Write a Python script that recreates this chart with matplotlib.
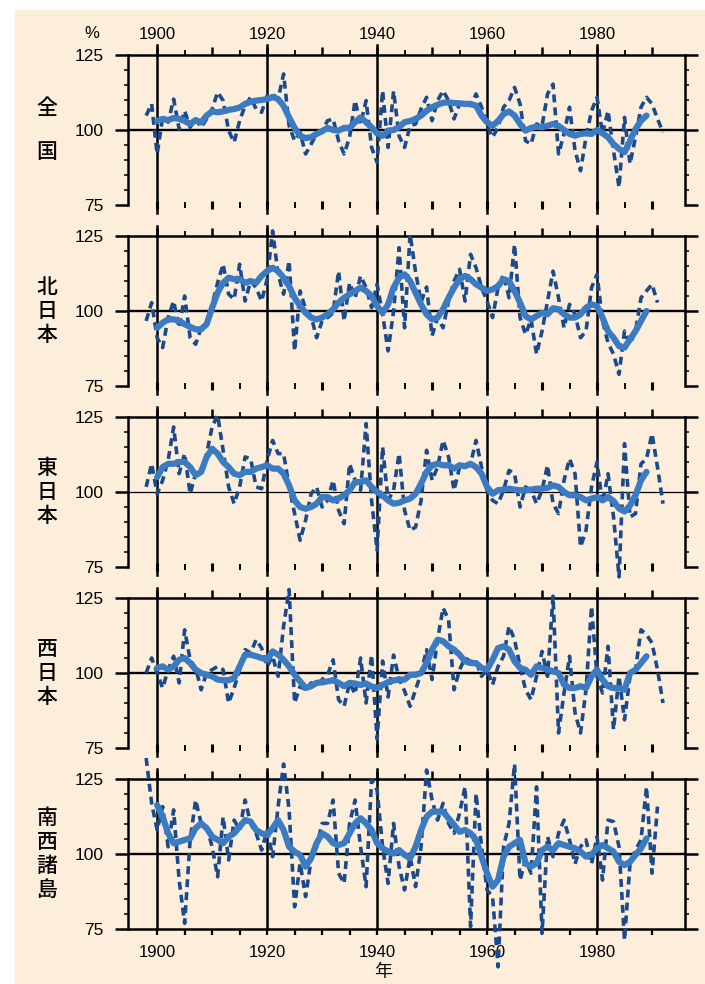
import matplotlib.pyplot as plt
import numpy as np
from matplotlib.patches import Rectangle
from matplotlib.ticker import FuncFormatter

FIG_W, FIG_H = 705, 984
BG = "#fdeedc"
DASH_COLOR = "#1b4a8c"
SMOOTH_COLOR = "#3b7bc2"
CJK = ["Noto Sans CJK JP", "DejaVu Sans"]

plt.rcParams["font.family"] = ["Liberation Sans", "DejaVu Sans"]

regions = ["全国", "北日本", "東日本", "西日本", "南西諸島"]
annual_start = 1898
smooth_start = 1900

# annual precipitation ratio (%)
annual_zenkoku = [
    104.8, 108.7, 92, 104.2, 102.6, 110.3, 100.3, 106.4, 100.9, 103.7,
    100.9, 103.7, 107, 112.6, 109.8, 99.8, 95.9, 103.1, 108.1, 110.9,
    107, 105.9, 111.4, 112, 110.3, 118.7, 101.4, 96.4, 99.2, 92,
    95.3, 98.7, 99.8, 103.1, 103.7, 96.4, 92, 97.6, 109.8, 102,
    109.8, 94.2, 89.2, 113.1, 94.2, 113, 98, 94.2, 101.4, 102,
    107, 110.9, 103.1, 109.8, 113.1, 109.8, 103.7, 108.7, 109.2, 108.1,
    112, 107.6, 101.4, 97.6, 100.9, 107.6, 109.8, 114.2, 108.7, 96.4,
    95.3, 102, 101.4, 112, 115.3, 92, 98.7, 107.6, 93.1, 86.4,
    97.6, 106.4, 110.9, 98.7, 106.4, 93.1, 80.9, 104.2, 88.7, 97.6,
    107.6, 110.9, 108.7, 103.7, 99.2,
]
annual_kita = [
    96.7, 102.8, 91.1, 87.8, 97.8, 103.3, 94.4, 105, 91.1, 88.9,
    94.4, 95.6, 102.2, 109.4, 115.6, 105.6, 103.9, 115.6, 103.3, 110,
    107.8, 103.3, 110.6, 126.7, 112.2, 105.6, 116.7, 86.7, 106.7, 100.6,
    98.3, 91.1, 96.7, 97.8, 99.4, 113.3, 96.7, 109.4, 104.4, 111.7,
    107.8, 101.1, 108.9, 98.9, 86.7, 100, 121.1, 94.4, 125.6, 113,
    103, 108, 91.7, 97.8, 94.4, 103.3, 110, 113.9, 103.3, 118.9,
    114.4, 107.8, 103.3, 97.8, 107.8, 112.2, 104.4, 122.2, 97.8, 92.2,
    97.2, 85.6, 93.3, 103.3, 113.3, 104.4, 94.4, 102.2, 98.9, 91.1,
    93.3, 107.8, 112.2, 96.7, 89.4, 85.6, 78.9, 93.3, 88.9, 93.3,
    104.4, 106.7, 108.9, 102.8,
]
annual_higashi = [
    101.7, 109.4, 99.4, 103.9, 110.6, 121.7, 106.1, 112.8, 99.4, 106.1,
    105.6, 112.8, 121.7, 125.6, 113.9, 101.7, 96.1, 101.7, 111.7, 111.1,
    101.7, 101.1, 110.6, 117.2, 112.8, 112.8, 101.7, 92.8, 83.9, 90.6,
    99.4, 101.7, 95, 97.2, 103.9, 93.9, 89.4, 109.4, 103.9, 100.6,
    122.8, 97.2, 80.6, 115, 97.2, 100.6, 112.8, 93.9, 87.2, 88.3,
    97.2, 113.9, 103.9, 108.3, 117.2, 111.7, 100.6, 108.3, 108.3, 109.4,
    117.2, 108.3, 100.6, 97.2, 96.1, 100.6, 107.2, 106.1, 95, 101.7,
    100.6, 96.1, 100.6, 108.9, 96.1, 92.8, 103.9, 111.1, 106.1, 81.7,
    87.2, 101.7, 110, 96.1, 106.1, 91.7, 71.7, 116.1, 91.7, 92.8,
    109.4, 111.1, 119.4, 108.3, 96.1,
]
annual_nishi = [
    100, 105, 100, 95, 101.1, 105.6, 96.7, 114.4, 104.4, 101.7,
    94.4, 100, 101.1, 102.2, 101.1, 90, 95, 101.1, 107.8, 106.7,
    111.1, 108.3, 102.2, 105.6, 98.9, 115.6, 127.8, 90, 95.6, 94.4,
    96.7, 96.1, 97.8, 99.4, 104.4, 91.1, 88.9, 96.7, 93, 105,
    90, 106, 78, 104, 92, 106, 98, 94, 88.9, 94.4,
    100, 107.8, 97.8, 111.1, 121.7, 117.8, 94.4, 101.1, 105, 103.9,
    103.9, 98.9, 101.1, 96.1, 102.2, 105.6, 115.6, 111.1, 102.2, 94.4,
    91.1, 98.9, 107.2, 98.9, 125.6, 80, 93.3, 105.6, 86.7, 80,
    94.4, 122.2, 98.9, 93.3, 108.9, 81.1, 98.9, 84.4, 98.9, 101.1,
    114.4, 112.8, 110, 101.1, 90,
]
annual_nansei = [
    132, 116.9, 108, 115.8, 102.4, 114.7, 91.3, 76.9, 104.7, 118,
    110.2, 109.1, 102.4, 92.4, 112.4, 98, 111.3, 108, 118, 110.2,
    106.9, 101.3, 108, 99.1, 115.8, 130, 114.7, 82.4, 96.9, 85.8,
    98, 102.4, 110.2, 110.2, 118, 93.6, 90.2, 110.2, 118, 102.4,
    89.1, 124.7, 121.3, 102.4, 90.2, 110.2, 95.8, 88, 99.1, 89.1,
    102.4, 128, 118, 111.3, 116.9, 110.2, 106.9, 113.6, 122.4, 75.8,
    120.2, 102.4, 88, 85.8, 62.4, 102.4, 110.2, 130, 91.3, 98,
    93.6, 122.4, 73.6, 105.8, 99.1, 106.9, 111.3, 104.7, 96.7, 102.4,
    104.7, 96.7, 105.8, 91.3, 111.3, 110.8, 102.4, 71.3, 96.9, 101.3,
    104.7, 122.4, 93.6, 115.8,
]

# 5-year running mean (thick line)
smooth_zenkoku = [
    103, 103.7, 103.3, 104, 103.7, 103, 102, 103.3, 102.5, 104.8,
    106.2, 105.9, 106.2, 106.7, 107, 107.5, 108.7, 109.4, 109.8, 110,
    110.3, 111, 110.3, 108, 104.2, 100.7, 98.1, 97.3, 97.6, 98.7,
    99.6, 100.7, 100, 99.8, 100.7, 100.7, 102.6, 104.2, 102.6, 100.9,
    98.9, 98.1, 99.8, 100, 101, 102.6, 103, 103.7, 104.8, 106.4,
    107.6, 108.4, 109.1, 109.2, 109, 108.9, 108.7, 108.7, 108.1, 104.8,
    102.6, 101.4, 103, 105.3, 106.2, 104.8, 102, 99.8, 100.7, 101.1,
    100.9, 101.4, 102, 101.4, 100, 98.7, 98.1, 98.7, 98.9, 98.7,
    100, 98.9, 97.6, 95.3, 93.7, 92.6, 96.4, 100.3, 103.1, 104.8,
]
smooth_kita = [
    94.4, 96.1, 97.2, 97.2, 96.7, 95.6, 94.7, 93.9, 93.9, 95.6,
    101.1, 106.1, 109.4, 111.1, 110.6, 110.6, 109.4, 110, 109.4, 111.7,
    113.3, 114.4, 113.3, 111.1, 108.3, 104.4, 101.7, 99.4, 97.8, 97.2,
    97.8, 98.9, 100.6, 102.8, 104.4, 105.6, 106.7, 107.8, 106.7, 105,
    101.7, 99.4, 102.2, 107.8, 111.1, 112.2, 110, 106.1, 102.2, 98.9,
    97.2, 97.8, 100.6, 104.4, 107.8, 110.6, 111.7, 110.6, 108.9, 107.8,
    106.7, 107.2, 108.3, 110.6, 110, 106.7, 102.8, 98.3, 97.2, 98.3,
    99.4, 98.9, 100.9, 100.6, 98.9, 97.8, 97.8, 98.9, 101.1, 102.2,
    101.7, 97.8, 93.3, 91.1, 88.3, 87.8, 90.6, 93.3, 96.7, 100,
]
smooth_higashi = [
    105, 108.3, 109.4, 109.4, 110, 110, 108.3, 105.6, 106.7, 111.7,
    114.4, 112.8, 110, 108.3, 106.1, 105.6, 106.7, 106.7, 107.8, 108.3,
    108.9, 107.8, 107.8, 106.1, 102.2, 97.2, 95, 94.4, 95, 96.1,
    98.3, 98.3, 97.2, 97.8, 98.9, 100.6, 103.3, 103.3, 103.9, 101.7,
    100, 98.9, 97.2, 96.1, 96.4, 97.2, 97.8, 99.4, 102.8, 106.7,
    108.9, 109.4, 108.9, 108.9, 107.8, 108.9, 108.6, 109.4, 108.3, 106.1,
    101.7, 99.4, 100.6, 100.8, 101.1, 100.8, 100.6, 100.6, 100.8, 101.1,
    101.1, 101.4, 102.2, 101.7, 100, 98.9, 98.9, 98.3, 97.2, 97.8,
    98.3, 97.2, 98.3, 97, 94.5, 93.5, 95.5, 98.9, 103.9, 106.7,
]
smooth_nishi = [
    101.7, 102.2, 101.1, 102.2, 104.4, 105, 103.3, 101.1, 100, 99.4,
    98.9, 97.8, 97.6, 97.6, 98.3, 102.2, 106.1, 106.1, 105.6, 105,
    104.4, 107.2, 106.1, 104.4, 102.2, 99.4, 97.2, 95, 95.6, 96.7,
    96.9, 97.2, 97.6, 96.7, 95.6, 96.7, 96.5, 96, 96.5, 95.5,
    95, 96, 97, 97.5, 97.8, 97.8, 99.4, 99.4, 100, 103.3,
    107.8, 111.1, 110.6, 108.9, 107.8, 106.1, 103.9, 103.3, 103.3, 101.7,
    101.1, 104.4, 108.3, 108.9, 107.8, 103.9, 101.7, 101.1, 99.4, 102.2,
    101.7, 101.1, 100.6, 100, 96.1, 95, 95, 95.6, 95, 98.9,
    101.1, 97.8, 95.6, 95, 95, 94.4, 100, 101.1, 103.3, 105.6,
]
smooth_nansei = [
    116.3, 112.4, 106.9, 103.6, 104.1, 104.7, 105.2, 108.6, 110.2, 108.6,
    105.8, 104.7, 103.6, 105.8, 106.9, 109.1, 111.3, 110.8, 108, 106.9,
    106.3, 108.6, 111.3, 108, 102.4, 100.8, 99.7, 95.8, 98.6, 103.6,
    106.9, 105.8, 103.6, 103, 103.6, 106.9, 110.2, 111.9, 110.2, 108,
    103.6, 101.9, 100.8, 100.2, 101.3, 99.7, 98.6, 102.4, 108, 112.4,
    114.1, 114.1, 114.1, 111.9, 109.7, 107.4, 108, 106.9, 104.7, 99.1,
    93.6, 89.1, 91.3, 99.1, 102.4, 103.6, 104.7, 96.9, 95.8, 96.9,
    101.3, 102.4, 101.3, 103.6, 103, 102.4, 101.9, 100.8, 99.1, 99.7,
    101.9, 103, 101.9, 100.8, 97.4, 96.3, 97.4, 99.7, 101.9, 105.2,
]

annual_series = [annual_zenkoku, annual_kita, annual_higashi, annual_nishi, annual_nansei]
smooth_series = [smooth_zenkoku, smooth_kita, smooth_higashi, smooth_nishi, smooth_nansei]


def px(x, y):
    """pixel position (from top-left) -> figure fraction"""
    return x / FIG_W, 1 - y / FIG_H


fig = plt.figure(figsize=(FIG_W / 100, FIG_H / 100), dpi=100, facecolor="white")
fig.patches.append(Rectangle(px(15, FIG_H), 1 - 15 / FIG_W, 1 - 10 / FIG_H,
                             transform=fig.transFigure, color=BG, zorder=-10))

AX_LEFT, AX_RIGHT = 128, 685
PANEL_TOP, PANEL_STEP, PANEL_H = 55, 181, 150
year_fmt = FuncFormatter(lambda v, pos: f"{int(v)}" if int(v) % 20 == 0 else "")

n = len(regions)
for i, name in enumerate(regions):
    top = PANEL_TOP + PANEL_STEP * i
    last = i == n - 1
    x0, y0 = px(AX_LEFT, top + PANEL_H)
    ax = fig.add_axes([x0, y0, (AX_RIGHT - AX_LEFT) / FIG_W, PANEL_H / FIG_H])
    ax.patch.set_alpha(0)
    ax.set_xlim(1894.7, 1996)
    ax.set_ylim(75, 125)

    for side in ["left", "top", "right"]:
        ax.spines[side].set_linewidth(1.8)
    ax.spines["bottom"].set_visible(False)

    # y axis: labels on the left, ticks both sides
    ax.yaxis.set_ticks_position("both")
    ax.set_yticks([75, 100, 125])
    ax.set_yticks(np.arange(80, 125, 5), minor=True)
    ax.tick_params(axis="y", which="major", direction="out", length=9.5, width=1.8,
                   labelsize=12.5, pad=8, labelright=False)
    ax.tick_params(axis="y", which="minor", direction="out", length=3, width=1.1)

    # x axis on top
    ax.xaxis.set_ticks_position("top")
    ax.set_xticks(np.arange(1900, 1991, 10))
    ax.set_xticks(np.arange(1905, 1990, 10), minor=True)
    ax.xaxis.set_major_formatter(year_fmt)
    ax.tick_params(axis="x", which="major", direction="out", length=5.8, width=1.8,
                   labelsize=12, pad=3.5, labeltop=(i == 0), labelbottom=False)
    ax.tick_params(axis="x", which="minor", direction="out", length=3.6, width=1.3)

    # tick marks along the bottom
    sec = ax.secondary_xaxis("bottom")
    sec.set_xticks(np.arange(1900, 1991, 10))
    sec.set_xticks(np.arange(1905, 1990, 10), minor=True)
    sec.xaxis.set_major_formatter(year_fmt)
    if last:
        sec.spines["bottom"].set_linewidth(1.8)
        sec.tick_params(axis="x", which="both", direction="out", length=4.5, width=1.6,
                        labelsize=12, pad=7)
    else:
        sec.spines["bottom"].set_visible(False)
        sec.tick_params(axis="x", which="major", direction="inout", length=6, width=2.2,
                        labelbottom=False)
        sec.tick_params(axis="x", which="minor", direction="inout", length=4, width=1.4)

    # reference lines
    ax.axhline(100, color="black", lw=0.9 if i == 2 else 1.7, zorder=2)
    for yr in range(1900, 1981, 20):
        ax.axvline(yr, ymin=0 if last else -8 / PANEL_H, ymax=1 + 10 / PANEL_H,
                   color="black", lw=1.8, zorder=2, clip_on=False)

    annual = annual_series[i]
    smooth = smooth_series[i]
    ax.plot(np.arange(annual_start, annual_start + len(annual)), annual,
            color=DASH_COLOR, lw=2.6, ls=(0, (2.2, 1.4)), zorder=3, clip_on=False)
    ax.plot(np.arange(smooth_start, smooth_start + len(smooth)), smooth,
            color=SMOOTH_COLOR, lw=4.5, zorder=4, clip_on=False, solid_capstyle="round")

    # vertical region label
    chars = list(name)
    spacing = 45 if len(chars) == 2 else 24
    centre = top + PANEL_H / 2
    for k, ch in enumerate(chars):
        fig.text(*px(47, centre + (k - (len(chars) - 1) / 2) * spacing), ch,
                 family=CJK, fontsize=15, fontweight="medium", ha="center", va="center")

fig.text(*px(92, 33), "%", fontsize=12, ha="center", va="center")
fig.text(*px(383, 972), "年", family=CJK, fontsize=13, ha="center", va="center")

fig.savefig("out.png", dpi=100, facecolor="white")
